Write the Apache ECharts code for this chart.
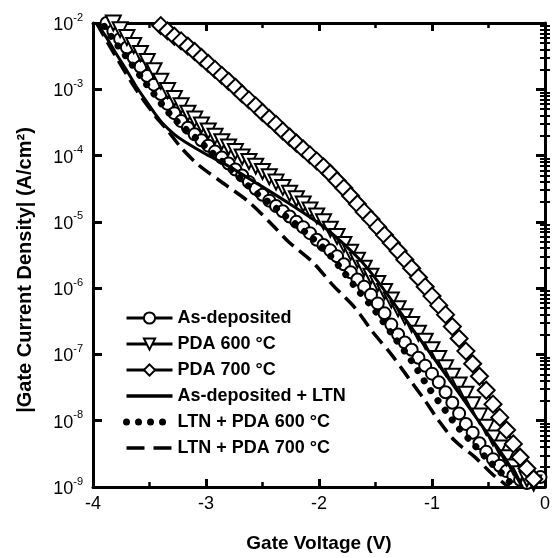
<!DOCTYPE html>
<html><head><meta charset="utf-8">
<script src="https://cdn.jsdelivr.net/npm/echarts@6/dist/echarts.min.js"></script>
<style>html,body{margin:0;padding:0;background:#fff}#c{width:553px;height:558px}</style>
</head><body><div id="c"></div>
<script>
// ---- data (exponents are log10 of |J| in A/cm^2) ----
const volts = [-3.94,-3.88,-3.82,-3.76,-3.70,-3.64,-3.58,-3.52,-3.46,-3.40,-3.34,-3.28,-3.22,-3.16,-3.10,-3.04,-2.98,-2.92,-2.86,-2.80,-2.74,-2.68,-2.62,-2.56,-2.50,-2.44,-2.38,-2.32,-2.26,-2.20,-2.14,-2.08,-2.02,-1.96,-1.90,-1.84,-1.78,-1.72,-1.66,-1.60,-1.54,-1.48,-1.42,-1.36,-1.30,-1.24,-1.18,-1.12,-1.06,-1.00,-0.94,-0.88,-0.82,-0.76,-0.70,-0.64,-0.58,-0.52,-0.46,-0.40,-0.34,-0.28,-0.22,-0.16,-0.10,-0.04];

const asDepositedExp = [null,-2.00,-2.12,-2.24,-2.37,-2.52,-2.66,-2.80,-2.93,-3.07,-3.22,-3.36,-3.48,-3.58,-3.68,-3.77,-3.85,-3.94,-4.03,-4.12,-4.21,-4.30,-4.40,-4.50,-4.59,-4.68,-4.76,-4.84,-4.92,-5.00,-5.08,-5.17,-5.27,-5.35,-5.43,-5.52,-5.64,-5.76,-5.87,-5.98,-6.10,-6.23,-6.38,-6.55,-6.70,-6.82,-6.93,-7.05,-7.17,-7.29,-7.42,-7.57,-7.73,-7.89,-8.05,-8.18,-8.34,-8.47,-8.58,-8.68,-8.76,-8.83,-8.89,-8.94,null,-8.85];

const pda600Exp = [null,null,-2.00,-2.10,-2.22,-2.34,-2.46,-2.58,-2.72,-2.88,-3.02,-3.14,-3.25,-3.36,-3.45,-3.54,-3.63,-3.71,-3.79,-3.87,-3.94,-4.02,-4.09,-4.16,-4.24,-4.32,-4.40,-4.48,-4.57,-4.65,-4.73,-4.82,-4.91,-5.00,-5.11,-5.22,-5.34,-5.46,-5.58,-5.70,-5.82,-5.93,-6.05,-6.18,-6.31,-6.43,-6.55,-6.68,-6.80,-6.93,-7.06,-7.20,-7.33,-7.46,-7.60,-7.76,-7.93,-8.10,-8.26,-8.41,-8.56,-8.70,-8.80,-8.88,-8.94,null];

const pda700Exp = [null,null,null,null,null,null,null,null,null,-2.04,-2.12,-2.20,-2.27,-2.35,-2.43,-2.52,-2.61,-2.70,-2.79,-2.88,-2.97,-3.07,-3.16,-3.25,-3.35,-3.44,-3.53,-3.63,-3.72,-3.81,-3.90,-3.99,-4.08,-4.17,-4.27,-4.38,-4.49,-4.61,-4.73,-4.85,-4.96,-5.08,-5.20,-5.32,-5.44,-5.57,-5.70,-5.84,-5.98,-6.12,-6.26,-6.40,-6.58,-6.76,-6.95,-7.14,-7.33,-7.54,-7.75,-7.95,-8.14,-8.35,-8.55,-8.72,-8.88,null];

const ltnVolts = [-3.97,-3.88,-3.80,-3.70,-3.62,-3.52,-3.45,-3.38,-3.28,-3.18,-3.00,-2.82,-2.53,-2.24,-1.94,-1.65,-1.47,-1.18,-0.88,-0.59,-0.36,-0.20];
const ltnExp   = [-2.00,-2.22,-2.45,-2.72,-2.95,-3.20,-3.37,-3.52,-3.68,-3.80,-3.98,-4.14,-4.44,-4.75,-5.10,-5.55,-5.92,-6.60,-7.30,-8.00,-8.55,-9.00];

const ltn600Volts = [-3.90,-3.82,-3.71,-3.56,-3.47,-3.38,-3.29,-3.18,-3.06,-2.97,-2.85,-2.74,-2.65,-2.53,-2.41,-2.32,-2.21,-2.09,-1.97,-1.88,-1.77,-1.68,-1.50,-1.33,-1.18,-1.03,-0.88,-0.77,-0.65,-0.50,-0.38,-0.30];
const ltn600Exp   = [-2.05,-2.25,-2.50,-2.85,-3.05,-3.25,-3.43,-3.60,-3.78,-3.92,-4.10,-4.27,-4.42,-4.60,-4.75,-4.88,-5.03,-5.20,-5.38,-5.55,-5.78,-5.98,-6.35,-6.75,-7.10,-7.50,-7.85,-8.10,-8.32,-8.60,-8.80,-8.95];

const ltn700Volts = [-3.97,-3.80,-3.62,-3.45,-3.35,-3.21,-3.06,-2.82,-2.62,-2.41,-2.27,-2.06,-1.88,-1.68,-1.53,-1.36,-1.21,-1.06,-0.94,-0.80,-0.62,-0.47,-0.36,-0.28];
const ltn700Exp   = [-2.00,-2.50,-3.00,-3.40,-3.60,-3.90,-4.15,-4.45,-4.70,-5.05,-5.30,-5.60,-5.95,-6.30,-6.65,-7.00,-7.35,-7.70,-8.00,-8.30,-8.55,-8.80,-8.95,-9.05];

const seriesNames = ['As-deposited','PDA 600 \u00B0C','PDA 700 \u00B0C','As-deposited + LTN','LTN + PDA 600 \u00B0C','LTN + PDA 700 \u00B0C'];
const yDecades = [-9,-8,-7,-6,-5,-4,-3,-2];

// ---- build ----
const FONT = '"Liberation Sans", Arial, Helvetica, sans-serif';
const pairs = (vs, es) => vs.map((v,i) => [v, es[i] == null ? '-' : Math.pow(10, es[i])]);
const minorExp = [];
yDecades.slice(0,-1).forEach(d => { for (let m = 2; m <= 9; m++) minorExp.push(d + Math.log10(m)); });

const black = '#000';
const frameLine = {show:true, onZero:false, lineStyle:{color:black, width:3}};
const markerCommon = {
  type:'line', xAxisIndex:0, yAxisIndex:0, showSymbol:true,
  itemStyle:{color:'#fff', borderColor:black, borderWidth:2},
  lineStyle:{color:black, width:2.5}, emphasis:{disabled:true}, z:3
};
const noIcon = {color:'transparent', borderColor:'transparent', borderWidth:0};
const dotStyle = {color:black, width:7, type:[0.01, 12], cap:'round'};
const dashStyle = {color:black, width:3.5, type:[15, 7]};

const chart = echarts.init(document.getElementById('c'), null, {renderer:'canvas'});
chart.setOption({
  animation:false,
  backgroundColor:'#fff',
  textStyle:{fontFamily:FONT},
  grid:{left:93, right:7, top:23, bottom:68, containLabel:false},
  legend:{
    orient:'vertical', left:118, top:304, itemWidth:46, itemHeight:14, itemGap:8,
    selectedMode:false,
    textStyle:{fontFamily:FONT, fontWeight:'bold', fontSize:18, color:black, lineHeight:18, padding:[0,0,0,0]},
    data:[
      {name:seriesNames[0], lineStyle:{width:3}},
      {name:seriesNames[1], lineStyle:{width:3}},
      {name:seriesNames[2], lineStyle:{width:3}},
      {name:seriesNames[3], itemStyle:noIcon, lineStyle:{width:3.5}},
      {name:seriesNames[4], itemStyle:noIcon, lineStyle:dotStyle},
      {name:seriesNames[5], itemStyle:noIcon, lineStyle:{width:3.5, type:[18, 9]}}
    ]
  },
  xAxis:[
    {type:'value', position:'bottom', min:-4, max:0, interval:1,
     axisLine:frameLine,
     axisTick:{show:true, inside:true, length:8, lineStyle:{color:black, width:3}},
     minorTick:{show:true, splitNumber:2, length:5, lineStyle:{color:black, width:2.5}},
     splitLine:{show:false}, minorSplitLine:{show:false},
     axisLabel:{color:black, fontSize:18, fontFamily:FONT, margin:8, formatter:v => String(v)},
     name:'Gate Voltage (V)', nameLocation:'middle', nameGap:47,
     nameTextStyle:{color:black, fontWeight:'bold', fontSize:19, fontFamily:FONT}},
    {type:'value', position:'top', min:-4, max:0, interval:1,
     axisLine:frameLine,
     axisTick:{show:true, inside:true, length:8, lineStyle:{color:black, width:3}},
     minorTick:{show:true, splitNumber:2, length:5, lineStyle:{color:black, width:2.5}},
     splitLine:{show:false}, minorSplitLine:{show:false}, axisLabel:{show:false}}
  ],
  yAxis:[
    {type:'log', logBase:10, position:'left', min:1e-9, max:1e-2, interval:1,
     axisLine:frameLine,
     axisTick:{show:true, inside:true, length:9, lineStyle:{color:black, width:3}},
     splitLine:{show:false},
     axisLabel:{margin:10, formatter:v => '{b|10}{s|' + Math.round(Math.log10(v)) + '}',
       rich:{b:{fontSize:18, fontFamily:FONT, color:black, lineHeight:22, verticalAlign:'bottom'},
             s:{fontSize:11, fontFamily:FONT, color:black, lineHeight:22, verticalAlign:'top'}}},
     name:'|Gate Current Density| (A/cm\u00B2)', nameLocation:'middle', nameGap:58, nameRotate:90,
     nameTextStyle:{color:black, fontWeight:'bold', fontSize:20, fontFamily:FONT, padding:[0,30,0,0]}},
    {type:'log', logBase:10, position:'right', min:1e-9, max:1e-2, interval:1,
     axisLine:frameLine,
     axisTick:{show:true, inside:true, length:9, lineStyle:{color:black, width:3}},
     splitLine:{show:false}, axisLabel:{show:false}},
    {type:'value', position:'left', min:-9, max:-2, interval:1,
     axisLine:{show:false}, splitLine:{show:false}, axisLabel:{show:false},
     axisTick:{show:true, inside:true, length:5, customValues:minorExp, lineStyle:{color:black, width:2}}},
    {type:'value', position:'right', min:-9, max:-2, interval:1,
     axisLine:{show:false}, splitLine:{show:false}, axisLabel:{show:false},
     axisTick:{show:true, inside:true, length:5, customValues:minorExp, lineStyle:{color:black, width:2}}}
  ],
  series:[
    Object.assign({}, markerCommon, {name:seriesNames[0], symbol:'circle', symbolSize:12,
      data:pairs(volts, asDepositedExp)}),
    Object.assign({}, markerCommon, {name:seriesNames[1], symbol:'triangle', symbolRotate:180, symbolSize:15,
      data:pairs(volts, pda600Exp)}),
    Object.assign({}, markerCommon, {name:seriesNames[2], symbol:'diamond', symbolSize:17,
      data:pairs(volts, pda700Exp)}),
    {name:seriesNames[3], type:'line', symbol:'none', smooth:0.3, z:4,
      lineStyle:{color:black, width:3}, itemStyle:{color:black},
      data:pairs(ltnVolts, ltnExp)},
    {name:seriesNames[4], type:'line', symbol:'none', smooth:0.3, z:4,
      lineStyle:dotStyle, itemStyle:{color:black},
      data:pairs(ltn600Volts, ltn600Exp)},
    {name:seriesNames[5], type:'line', symbol:'none', smooth:0.3, z:4,
      lineStyle:dashStyle, itemStyle:{color:black},
      data:pairs(ltn700Volts, ltn700Exp)}
  ]
});
</script></body></html>
